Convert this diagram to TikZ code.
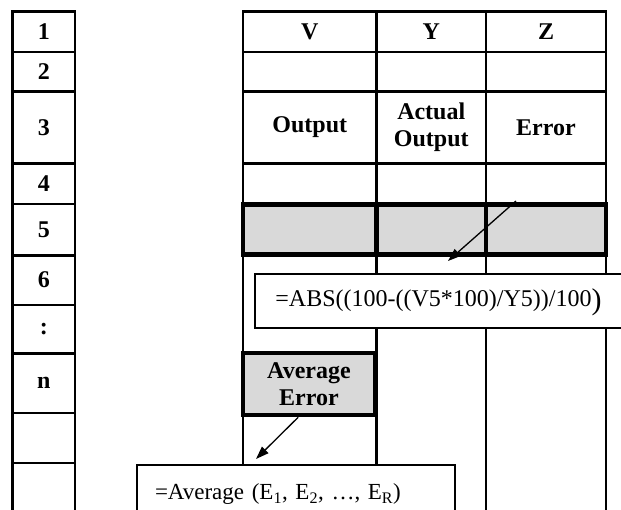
\documentclass[tikz,border=0pt]{standalone}
\usepackage{fontspec}
\setmainfont{Liberation Serif}
\usetikzlibrary{arrows.meta}

\definecolor{cellgray}{gray}{0.85}
\tikzset{
  rule/.style={line width=2.4pt, line cap=rect},
  leftrule/.style={line width=2.8pt, line cap=rect},
  thickrule/.style={line width=4.5pt, line cap=rect},
  lbl/.style={font=\fontsize{24}{27}\selectfont\bfseries, align=center},
  formula/.style={draw, line width=1.2pt, fill=white, font=\fontsize{24}{28}\selectfont},
  pointer/.style={line width=1.3pt, -{Triangle[length=13pt,width=9pt]}},
}

\begin{document}
\begin{tikzpicture}[x=1pt,y=-1pt]
	\useasboundingbox (0,0) rectangle (621,509);

	% row numbers
	\draw[leftrule] (12.5,11.5) -- (12.5,512);
	\draw[leftrule] (75,11.5) -- (75,512);
	\foreach \y in {11.5,52,91.5,163.5,204,255.5,305,353.5,413,463}
		\draw[leftrule] (12.5,\y) -- (75,\y);
	\foreach \i/\t/\y in {1/1/31.5, 2/2/72, 3/3/127.5, 4/4/184, 5/5/230, 6/6/280, 7/:/329, 8/n/383}
		\node[lbl] (row\i) at (43.75,\y) {\t};

	% table grid
	\foreach \y in {11.5,52,91.5,163.5}
		\draw[rule] (243,\y) -- (606,\y);
	\draw[rule] (243,11.5) -- (243,465);
	\foreach \x in {376.5,486,606}
		\draw[rule] (\x,11.5) -- (\x,512);

	% row 5
	\draw[thickrule, fill=cellgray] (243,204.5) rectangle (606,254.5);
	\foreach \x in {376.5,486}
		\draw[thickrule] (\x,204.5) -- (\x,254.5);

	% headers
	\node[lbl] (colV) at (309.75,31.5) {V};
	\node[lbl] (colY) at (431.25,31.5) {Y};
	\node[lbl] (colZ) at (546,31.5) {Z};
	\node[lbl] (output) at (309.75,127.5) {Output};
	\node[lbl] (actual) at (431.25,127.5) {Actual\\Output};
	\node[lbl] (error) at (546,127.5) {Error};

	% formulas
	\node[formula, minimum width=367pt, minimum height=54pt] (absbox) at (438.5,301)
		{=ABS((100-((V5*100)/Y5))/100\raisebox{-3pt}[0pt][0pt]{\fontsize{30}{30}\selectfont)}};
	\node[lbl, draw, thickrule, fill=cellgray, minimum width=132pt, minimum height=62pt] (avgerr) at (309,384) {Average\\Error};
	\node[formula, font=\fontsize{23}{27}\selectfont, minimum height=58pt, text width=282pt, inner xsep=18pt, align=left] (avgbox) at (296,494)
		{=Average (E\textsubscript{1}, E\textsubscript{2}, \dots, E\textsubscript{R})};

	% pointers
	\coordinate (abstail) at (516,201);
	\coordinate (abstip) at (448,261);
	\coordinate (avgtip) at (256,459);
	\draw[pointer] (abstail) -- (abstip);
	\draw[pointer] (avgerr.-108) -- (avgtip);
\end{tikzpicture}
\end{document}
